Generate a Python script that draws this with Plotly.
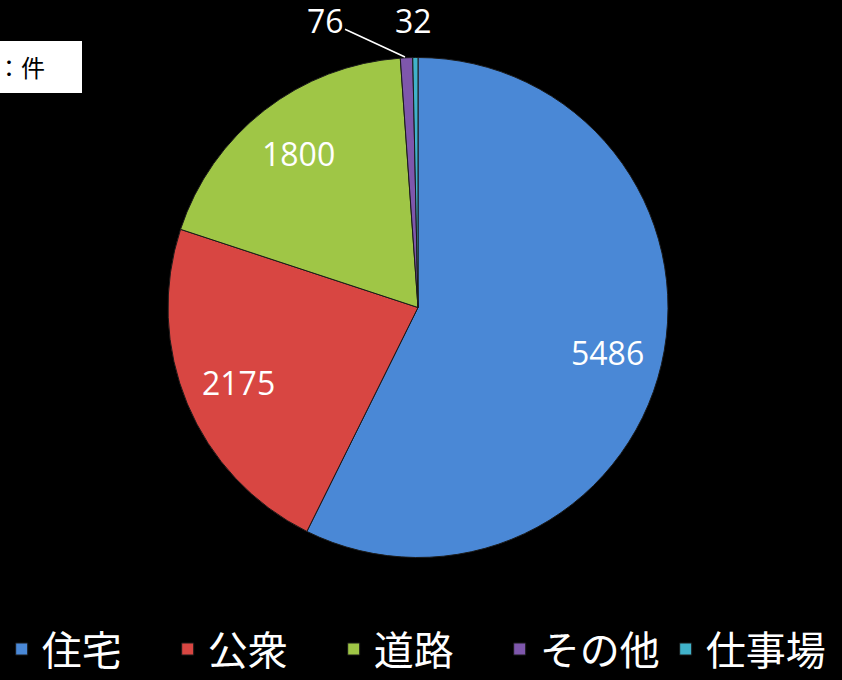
import math
import plotly.graph_objects as go

# ---- data ----
categories = ["住宅", "公衆", "道路", "その他", "仕事場"]
values = [5486, 2175, 1800, 76, 32]
colors = ["#4A88D6", "#D84642", "#9FC646", "#7E57AC", "#40B2CA"]
unit_label = "単位：件"

W, H = 842, 680

def px(x):
    return x / W

def py(y):
    return 1 - y / H

# pie geometry (pixels)
CX, CY, R = 418, 307.5, 250
LABEL_R = 0.78 * R

fig = go.Figure(
    go.Pie(
        labels=categories,
        values=values,
        sort=False,
        direction="clockwise",
        rotation=0,
        marker=dict(colors=colors, line=dict(color="#1a1a1a", width=1)),
        textinfo="none",
        hoverinfo="label+value",
        domain=dict(x=[px(CX - R), px(CX + R)], y=[py(CY + R), py(CY - R)]),
    )
)

# data labels for large slices, placed at each slice's mid-angle
total = sum(values)
cum = 0
label_font = dict(family="Open Sans", size=32, color="white")
for i, v in enumerate(values):
    mid = (cum + v / 2) / total * 2 * math.pi
    cum += v
    if i >= 3:
        continue
    lx = CX + LABEL_R * math.sin(mid)
    ly = CY - LABEL_R * math.cos(mid)
    fig.add_annotation(
        x=px(lx), y=py(ly), xref="paper", yref="paper",
        xanchor="center", yanchor="middle",
        text=str(v), showarrow=False, font=label_font,
    )

# small-slice labels
fig.add_annotation(
    x=px(405), y=py(57), xref="paper", yref="paper",
    text=str(values[3]), showarrow=True, arrowhead=0, arrowwidth=1.5,
    arrowcolor="white", ax=-80, ay=-37, font=label_font,
)
fig.add_annotation(
    x=px(413), y=py(20), xref="paper", yref="paper",
    xanchor="center", yanchor="middle",
    text=str(values[4]), showarrow=False, font=label_font,
)

# unit box
fig.add_shape(
    type="rect", xref="paper", yref="paper",
    x0=-0.1, x1=px(82), y0=py(93), y1=py(41),
    fillcolor="white", line=dict(color="white", width=0), layer="above",
)
fig.add_annotation(
    x=px(47), y=py(67), xref="paper", yref="paper",
    xanchor="right", yanchor="middle",
    text=unit_label, showarrow=False,
    font=dict(family="Noto Sans CJK JP", size=24, color="black"),
)

fig.update_layout(
    width=W, height=H,
    paper_bgcolor="black", plot_bgcolor="black",
    margin=dict(l=0, r=0, t=0, b=0, autoexpand=False),
    showlegend=True,
    legend=dict(
        orientation="h", x=0.002, xanchor="left", y=py(649), yanchor="middle",
        font=dict(family="Noto Sans CJK JP", size=40, color="white"),
        bgcolor="rgba(0,0,0,0)", entrywidth=121,
    ),
)

fig.write_html(
    "out.html",
    config={"displayModeBar": False},
    post_script="document.body.style.margin='0';document.body.style.padding='0';",
)
